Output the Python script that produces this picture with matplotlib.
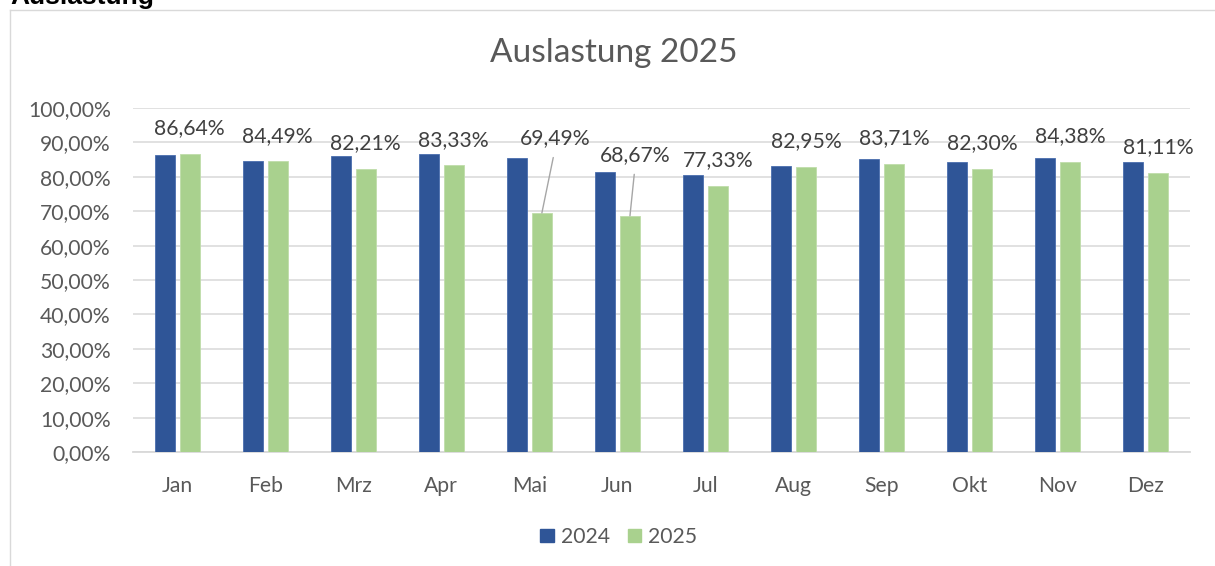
import matplotlib
matplotlib.use("Agg")
import matplotlib.pyplot as plt
from matplotlib.patches import Patch
from matplotlib.lines import Line2D
from matplotlib.ticker import FuncFormatter, MultipleLocator
import numpy as np

# ---- data ----
months = ["Jan", "Feb", "Mrz", "Apr", "Mai", "Jun", "Jul", "Aug", "Sep", "Okt", "Nov", "Dez"]
values_2024 = [86.3, 84.6, 86.0, 86.5, 85.4, 81.4, 80.4, 83.1, 85.1, 84.2, 85.4, 84.3]
values_2025 = [86.64, 84.49, 82.21, 83.33, 69.49, 68.67, 77.33, 82.95, 83.71, 82.30, 84.38, 81.11]
series_names = ["2024", "2025"]
title = "Auslastung 2025"
sheet_title = "Auslastung"

# ---- style ----
FONT = "Lato"
FS = 15.2
BLUE = "#2F5597"
GREEN = "#A9D18E"
GRID = "#D9D9D9"
TEXT = "#595959"
LABEL = "#404040"

W, H, DPI = 1215, 566, 100
fig = plt.figure(figsize=(W / DPI, H / DPI), dpi=DPI)
ax = fig.add_axes([133 / W, 1 - 452 / H, (1190 - 133) / W, (452 - 108) / H])

x = np.arange(len(months))
bw = 0.227
off = 0.142
ax.bar(x - off, [v / 100 for v in values_2024], bw, color=BLUE, edgecolor="#4A6EAE", linewidth=0.6, zorder=3)
ax.bar(x + off, [v / 100 for v in values_2025], bw, color=GREEN, edgecolor="#BFDDAA", linewidth=0.6, zorder=3)

ax.set_xlim(-0.5, len(months) - 0.5)
ax.set_ylim(0, 1.0)
ax.yaxis.set_major_locator(MultipleLocator(0.1))
ax.yaxis.set_major_formatter(FuncFormatter(lambda v, p: f"{v*100:.2f}%".replace(".", ",")))
ax.grid(axis="y", color=GRID, linewidth=1.1, zorder=0)
ax.set_axisbelow(True)
for s in ["top", "right", "left"]:
    ax.spines[s].set_visible(False)
ax.spines["bottom"].set_color(GRID)
ax.spines["bottom"].set_linewidth(1.3)
ax.set_xticks(x)
ax.set_xticklabels(months)
ax.tick_params(axis="both", length=0, labelsize=FS, labelcolor=TEXT)
ax.tick_params(axis="y", pad=16)
ax.tick_params(axis="x", pad=17)
for lbl in ax.get_xticklabels() + ax.get_yticklabels():
    lbl.set_fontfamily(FONT)

# data labels for 2025 (offsets in points; Mai/Jun moved with leader lines)
label_offsets = {4: (9.6, 54), 5: (3.8, 44)}
for i, v in enumerate(values_2025):
    txt = f"{v:.2f}%".replace(".", ",")
    if i in label_offsets:
        dx, dy = label_offsets[i]
        ax.annotate(txt, xy=(x[i] + off, v / 100), xytext=(dx, dy), textcoords="offset points",
                    ha="center", va="center", fontsize=FS, color=LABEL, family=FONT, zorder=5,
                    arrowprops=dict(arrowstyle="-", color="#A6A6A6", lw=1.0,
                                    relpos=(0.5, 0.0), shrinkA=5, shrinkB=0))
    else:
        ax.annotate(txt, xy=(x[i] + off, v / 100), xytext=(0, 18.5), textcoords="offset points",
                    ha="center", va="center", fontsize=FS, color=LABEL, family=FONT, zorder=5)

# title
fig.text(614 / W, 1 - 53 / H, title, ha="center", va="center", fontsize=24, color=TEXT, family=FONT)

# legend
handles = [Patch(facecolor=BLUE, edgecolor=BLUE), Patch(facecolor=GREEN, edgecolor=GREEN)]
fig.legend(handles, series_names, loc="center", bbox_to_anchor=(619 / W, 1 - 537 / H), ncol=2,
           frameon=False, prop={"family": FONT, "size": FS}, labelcolor=TEXT,
           handlelength=0.62, handleheight=0.62, handletextpad=0.35, columnspacing=0.85)

# outer chart frame (left and top border)
fig.add_artist(Line2D([10.5 / W, 10.5 / W], [0, 1 - 9.5 / H], color=GRID, lw=1.0, transform=fig.transFigure))
fig.add_artist(Line2D([10.5 / W, 1], [1 - 9.5 / H, 1 - 9.5 / H], color=GRID, lw=1.0, transform=fig.transFigure))

# cut-off sheet heading at top-left
fig.text(10 / W, 1 - 4 / H, sheet_title, ha="left", va="baseline", fontsize=19, fontweight="bold",
         color="black", family="Liberation Sans")

fig.savefig("out.png", dpi=DPI, facecolor="white")
